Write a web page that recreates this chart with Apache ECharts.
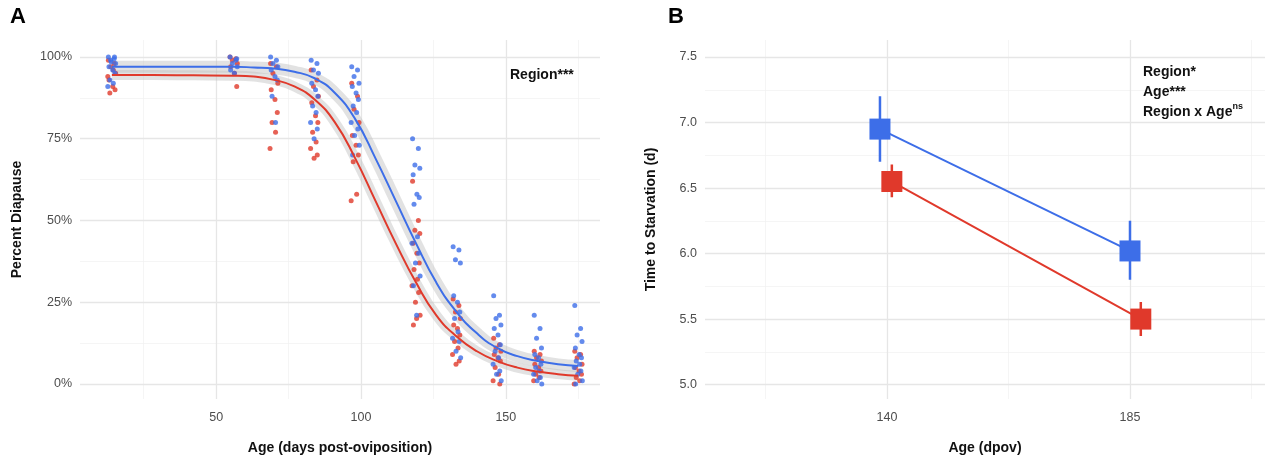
<!DOCTYPE html>
<html><head><meta charset="utf-8">
<script src="https://cdn.jsdelivr.net/npm/echarts@6/dist/echarts.min.js"></script>
<style>html,body{margin:0;background:#fff}#c{width:1276px;height:460px}</style>
</head><body><div id="c"></div>
<script>
const BLUE = '#3d6ee8', RED = '#e0392b';

// Panel A: ages sampled and percent-diapause points per age
const ages = [14, 56, 70, 84, 98, 119, 133, 147, 161, 175];
const bluePts = [
  [100, 99.5, 99, 98, 97, 96, 95, 93, 92, 91, 100, 98.5],
  [100, 99, 98, 97, 96, 95, 99.5],
  [100, 99, 98, 97, 96, 94, 93, 88, 80],
  [99, 98, 96, 95, 92, 90, 88, 85, 83, 80, 78, 75],
  [97, 96, 94, 92, 91, 89, 87, 85, 83, 80, 78, 76, 73, 70],
  [75, 72, 67, 66, 64, 58, 57, 55, 45, 43, 40, 37, 33, 30, 21],
  [42, 41, 38, 37, 27, 25, 22, 20, 16, 14, 13, 10, 8],
  [27, 21, 20, 18, 17, 15, 12, 10, 8, 6, 4, 3, 1],
  [21, 17, 14, 11, 9, 8, 6, 5, 4, 3, 2, 1, 0],
  [24, 17, 15, 13, 11, 9, 8, 7, 6, 5, 4, 3, 1, 0]
];
const redPts = [
  [99, 98, 97, 95, 93, 91, 90, 89, 96, 94],
  [100, 99.5, 99, 98, 97, 95, 91],
  [98, 97, 95, 92, 90, 87, 83, 80, 77, 72],
  [96, 93, 91, 88, 86, 82, 80, 77, 74, 72, 70, 69],
  [92, 88, 84, 80, 76, 73, 70, 68, 58, 56],
  [62, 50, 47, 46, 43, 40, 37, 35, 32, 30, 28, 25, 21, 18, 20],
  [26, 24, 22, 20, 18, 17, 15, 13, 11, 9, 7, 6],
  [14, 12, 11, 10, 9, 8, 7, 5, 3, 1, 0],
  [10, 9, 8, 7, 6, 5, 4, 3, 2, 1],
  [10, 9, 8, 6, 5, 4, 3, 2, 1, 0]
];
const jitter = [-1.2, 0.8, -0.4, 1.3, -1.0, 0.3, 1.1, -0.7, 0.5, -1.4, 0.9, -0.2, 1.4, -0.9, 0.2];

// Fitted curves
const curveX = [14, 28, 42, 56, 63, 70, 77, 84, 91, 98, 105, 112, 119, 126, 133, 140, 147, 154, 161, 168, 175];
const blueCurve = [97, 97, 97, 97, 96.8, 96.5, 95.5, 93.5, 89, 81, 69, 56, 43, 31, 22, 15.5, 11, 8.5, 7, 6, 5.5];
const redCurve = [94.5, 94.5, 94.4, 94.3, 94, 93, 91, 87, 80, 69, 56, 43, 31, 21, 14.5, 10, 7, 5, 3.8, 3, 2.5];

// Panel B: means and error bars
const bAgesBlue = [138.7, 185];
const bAgesRed = [140.9, 187];
const blueMean = [6.95, 6.02], blueLo = [6.7, 5.8], blueHi = [7.2, 6.25];
const redMean = [6.55, 5.5], redLo = [6.43, 5.37], redHi = [6.68, 5.63];

const ptsOf = (sets) => sets.flatMap((vals, i) => vals.map((v, j) => [ages[i] + jitter[j % jitter.length], v]));
const zip = (xs, ys) => xs.map((x, i) => [x, ys[i]]);

const major = { color: '#e6e6e6', width: 1.3, type: 'solid' };
const minor = { color: '#f2f2f2', width: 0.8, type: 'solid' };
function gridSeries(xi, yi, xMaj, xMin, yMaj, yMin, pt) {
  const d = [
    ...xMin.map(v => ({ xAxis: v, lineStyle: minor })),
    ...yMin.map(v => ({ yAxis: v, lineStyle: minor })),
    ...xMaj.map(v => ({ xAxis: v, lineStyle: major })),
    ...yMaj.map(v => ({ yAxis: v, lineStyle: major }))
  ];
  return { type: 'scatter', xAxisIndex: xi, yAxisIndex: yi, symbolSize: 0, data: [pt], z: 0,
    markLine: { z: 0, silent: true, symbol: 'none', label: { show: false }, animation: false, data: d } };
}
const axisLab = { color: '#4d4d4d', fontSize: 12.5, fontFamily: 'Liberation Sans' };
const nameSt = { color: '#111', fontSize: 14, fontWeight: 'bold', fontFamily: 'Liberation Sans' };

const series = [
  gridSeries(0, 0, [50, 100, 150], [25, 75, 125, 175], [0, 25, 50, 75, 100], [12.5, 37.5, 62.5, 87.5], [50, 50]),
  gridSeries(1, 1, [140, 185], [117.5, 162.5, 207.5], [5, 5.5, 6, 6.5, 7, 7.5], [5.25, 5.75, 6.25, 6.75, 7.25], [140, 6]),
  { type: 'line', data: zip(curveX, blueCurve), smooth: true, showSymbol: false, z: 1,
    lineStyle: { color: 'rgba(190,190,190,0.45)', width: 12 } },
  { type: 'line', data: zip(curveX, redCurve), smooth: true, showSymbol: false, z: 1,
    lineStyle: { color: 'rgba(190,190,190,0.45)', width: 10 } },
  { type: 'scatter', data: ptsOf(redPts), symbolSize: 5, itemStyle: { color: RED }, z: 2 },
  { type: 'scatter', data: ptsOf(bluePts), symbolSize: 5, itemStyle: { color: BLUE }, z: 3 },
  { type: 'line', data: zip(curveX, redCurve), smooth: true, showSymbol: false, z: 4,
    lineStyle: { color: RED, width: 2 } },
  { type: 'line', data: zip(curveX, blueCurve), smooth: true, showSymbol: false, z: 4,
    lineStyle: { color: BLUE, width: 2 } }
];
[[bAgesBlue, blueLo, blueHi, BLUE], [bAgesRed, redLo, redHi, RED]].forEach(([xs, lo, hi, c]) => {
  xs.forEach((x, i) => series.push({ type: 'line', xAxisIndex: 1, yAxisIndex: 1, showSymbol: false, z: 3,
    data: [[x, lo[i]], [x, hi[i]]], lineStyle: { color: c, width: 2.5 } }));
});
[[bAgesBlue, blueMean, BLUE], [bAgesRed, redMean, RED]].forEach(([xs, m, c]) => {
  series.push({ type: 'line', xAxisIndex: 1, yAxisIndex: 1, data: zip(xs, m), z: 4,
    symbol: 'rect', symbolSize: 21, showSymbol: true, itemStyle: { color: c }, lineStyle: { color: c, width: 2 } });
});

const noLine = { axisLine: { show: false }, axisTick: { show: false }, splitLine: { show: false } };
const option = {
  animation: false,
  grid: [
    { left: 80, right: 676, top: 40, bottom: 60 },
    { left: 705, right: 11, top: 40, bottom: 60 }
  ],
  xAxis: [
    { type: 'value', gridIndex: 0, min: 3, max: 182.5, ...noLine,
      axisLabel: { ...axisLab, customValues: [50, 100, 150], margin: 12 },
      name: 'Age (days post-oviposition)', nameLocation: 'middle', nameGap: 42, nameTextStyle: nameSt },
    { type: 'value', gridIndex: 1, min: 106.3, max: 210, ...noLine,
      axisLabel: { ...axisLab, customValues: [140, 185], margin: 12 },
      name: 'Age (dpov)', nameLocation: 'middle', nameGap: 42, nameTextStyle: nameSt }
  ],
  yAxis: [
    { type: 'value', gridIndex: 0, min: -4.6, max: 105.2, ...noLine,
      axisLabel: { ...axisLab, customValues: [0, 25, 50, 75, 100], formatter: v => v + '%', margin: 8 },
      name: 'Percent Diapause', nameLocation: 'middle', nameGap: 56, nameTextStyle: nameSt },
    { type: 'value', gridIndex: 1, min: 4.89, max: 7.63, ...noLine,
      axisLabel: { ...axisLab, customValues: [5, 5.5, 6, 6.5, 7, 7.5], formatter: v => v.toFixed(1), margin: 8 },
      name: 'Time to Starvation (d)', nameLocation: 'middle', nameGap: 47, nameTextStyle: nameSt }
  ],
  graphic: [
    { type: 'text', z: 100, left: 10, top: 6, style: { text: 'A', font: 'bold 22px Liberation Sans', fill: '#000' } },
    { type: 'text', z: 100, left: 668, top: 6, style: { text: 'B', font: 'bold 22px Liberation Sans', fill: '#000' } },
    { type: 'text', z: 100, left: 510, top: 68, style: { text: 'Region***', font: 'bold 14px Liberation Sans', fill: '#111' } },
    { type: 'text', z: 100, left: 1143, top: 62, style: {
      text: 'Region*\nAge***\nRegion x Age{s|ns}', font: 'bold 14px Liberation Sans', fill: '#111', lineHeight: 20,
      rich: { s: { fontSize: 9, fontWeight: 'bold', verticalAlign: 'top', padding: [0, 0, 8, 0], fontFamily: 'Liberation Sans' } } } }
  ],
  series
};
echarts.init(document.getElementById('c')).setOption(option);
</script></body></html>
